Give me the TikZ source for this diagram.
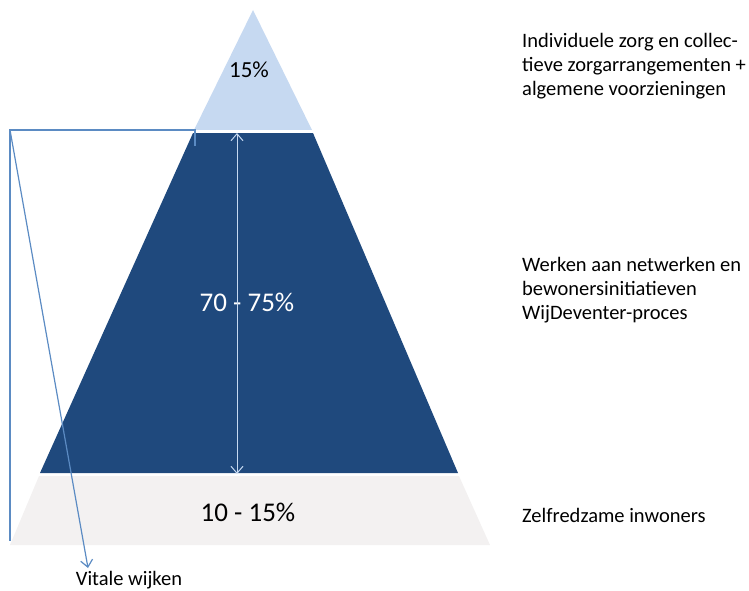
\documentclass[tikz,border=0pt]{standalone}
\usepackage{fontspec}
\setmainfont{Carlito}
\usetikzlibrary{positioning, arrows.meta}
\definecolor{toplayer}{HTML}{C6D9F1}
\definecolor{midlayer}{HTML}{1F497D}
\definecolor{baselayer}{HTML}{F3F1F1}
\definecolor{lineblue}{HTML}{5B8BC3}

\begin{document}
\begin{tikzpicture}[
		x=1pt, y=-1pt,
		band/.style={draw=none},
		pct/.style={font=\fontsize{27}{31}\selectfont, inner sep=0pt},
		lbl/.style={font=\fontsize{20.5}{24}\selectfont, align=left, anchor=west, inner sep=0pt},
		bracket/.style={draw=lineblue, line width=1.2pt},
		arrow/.style={->, >={Straight Barb[length=7pt, width=12pt]}}
		]
		\useasboundingbox (0,0) rectangle (749,591);
		
		% pyramid layers
		\fill[toplayer] (253,10) -- (312,130) -- (194,130) -- cycle;
		\fill[midlayer] (193,133) -- (313,133) -- (458,473) -- (40,473) -- cycle;
		\fill[baselayer] (39,476) -- (459,476) -- (490,545) -- (10,545) -- cycle;
		
		\node[pct, font=\fontsize{23}{27}\selectfont] (top) at (249,70) {15\%};
		\node[pct, text=white] (mid) at (247,302) {70 - 75\%};
		\node[pct] (base) at (248,512) {10 - 15\%};
		
		% span of the middle layer
		\coordinate (spanA) at (237,133);
		\coordinate (spanB) at (237,474);
		\draw[arrow, <->, draw=toplayer, line width=1pt] (spanA) -- (spanB);
		
		% labels right
		\node[lbl] (care) at (522,66) {Individuele zorg en collec-\\tieve zorgarrangementen +\\algemene voorzieningen};
		\node[lbl] (nets) at (522,290) {Werken aan netwerken en\\bewonersinitiatieven\\WijDeventer-proces};
		\node[lbl] (self) at (522,515) {Zelfredzame inwoners};
		
		% bracket on the left
		\coordinate (tick) at (195,146);
		\coordinate (tickTop) at (195,130);
		\coordinate (corner) at (10,130);
		\coordinate (foot) at (10,541);
		\coordinate (tip) at (88,568);
		\node[lbl, anchor=center] (vital) at (129,580) {Vitale wijken};
		
		\draw[bracket] (tick) -- (tickTop) -- (corner) -- (foot);
		\draw[bracket, arrow] (corner) -- (tip);
		
	\end{tikzpicture}
\end{document}
